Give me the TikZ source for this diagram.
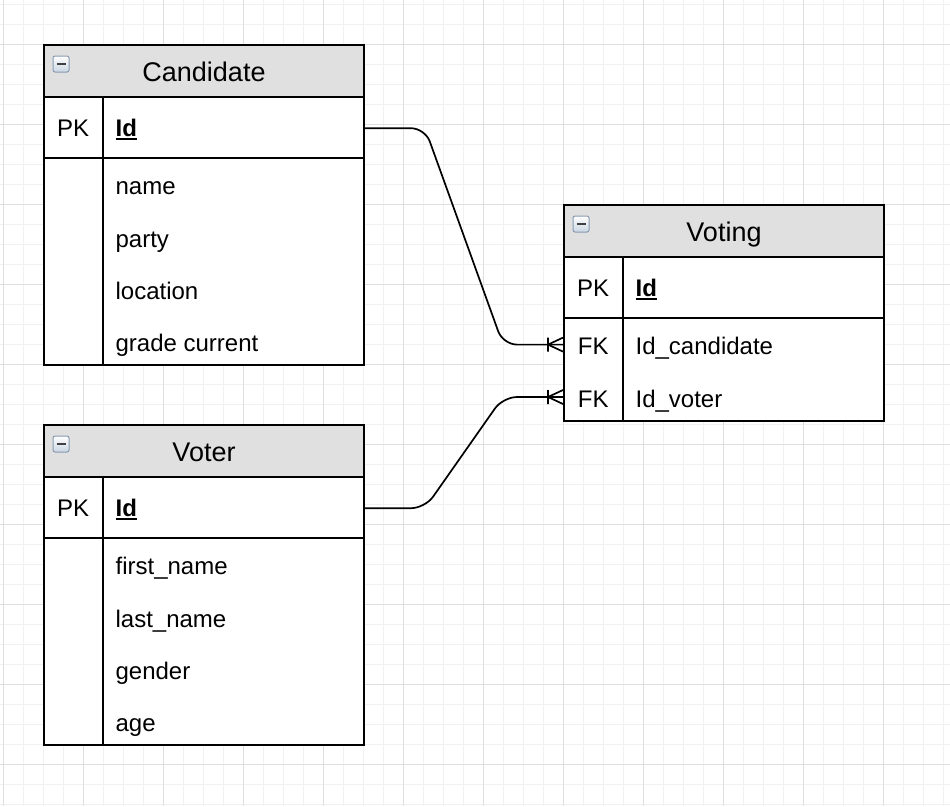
\documentclass[tikz,border=0pt]{standalone}
\usepackage{fontspec}
\setmainfont{Liberation Sans}
\usetikzlibrary{positioning}

\definecolor{headgray}{HTML}{E0E0E0}
\definecolor{gridminor}{HTML}{F1F1F1}
\definecolor{gridmajor}{HTML}{DFDFDF}
\definecolor{iconedge}{HTML}{8A9BB0}
\definecolor{iconfill}{HTML}{C9D5E3}

\newsavebox{\keybox}
\newcommand{\keyname}[1]{\sbox\keybox{\bfseries #1}\rlap{\rule[-3.5pt]{\wd\keybox}{2pt}}\usebox\keybox}

\tikzset{
  erline/.style={line width=2pt},
  connector/.style={line width=1.7pt, rounded corners=14pt},
  tablebox/.style={draw, erline, fill=white, anchor=north west, minimum width=320, inner sep=0},
  tablehead/.style={draw, erline, fill=headgray, anchor=north west, minimum width=320,
    minimum height=52, inner sep=0, text height=21pt, text depth=0pt, font=\fontsize{27}{32}\selectfont},
  keycell/.style={anchor=north west, minimum width=60, minimum height=52, inner sep=0,
    text height=20pt, text depth=0pt, font=\fontsize{24}{28}\selectfont},
  pkcell/.style={keycell, minimum height=60, text height=17pt},
  field/.style={anchor=base west, xshift=12pt, inner sep=0, font=\fontsize{24}{28}\selectfont},
  collapse/.style={draw=iconedge, line width=1pt, top color=white, bottom color=iconfill,
    rounded corners=2pt, minimum size=16, inner sep=0,
    path picture={\draw[black!75, line width=2.5pt]
      ([xshift=3.5pt]path picture bounding box.west) -- ([xshift=-3.5pt]path picture bounding box.east);}},
  crowsfoot/.pic={\draw[line width=1.7pt] (-15,-7) -- (-15,7) (0,-7) -- (-15,0) -- (0,7);},
}

\begin{document}
\begin{tikzpicture}[x=1pt, y=-1pt]
  \useasboundingbox[fill=white] (0,0) rectangle (950,806);
  %\draw[help lines,step=20] (0,0) grid (950,806);

  % background grid
  \foreach \x in {3,23,...,943} \draw[gridminor, line width=1pt] (\x,0) -- (\x,806);
  \foreach \y in {4,24,...,804} \draw[gridminor, line width=1pt] (0,\y) -- (950,\y);
  \foreach \x in {3,83,...,883} \draw[gridmajor, line width=1pt] (\x,0) -- (\x,806);
  \foreach \y in {44,124,...,764} \draw[gridmajor, line width=1pt] (0,\y) -- (950,\y);

  \foreach \n/\x/\y/\h/\t in {cand/43/44/320/Candidate, voter/43/424/320/Voter, vote/563/204/216/Voting} {
    \node[tablebox, minimum height=\h] (\n) at (\x,\y) {};
    \node[tablehead] (\n head) at (\n.north west) {\t};
    \node[collapse, xshift=18pt, yshift=-20pt] (\n icon) at (\n head.north west) {};
    \node[pkcell] (\n pk) at (\n head.south west) {PK};
    \node[field] (\n id) at (\n pk.base east) {\keyname{Id}};
    \draw[erline] (\n pk.south west) -- (\n pk.south -| \n.east);
    \draw[erline] (\n pk.north east) -- (\n pk.north east |- \n.south);
  }

  \foreach \prev/\k/\key/\t in {candpk/cname//name, cname/cparty//party, cparty/cloc//location,
    cloc/cgrade//grade current, voterpk/vfirst//first\_name, vfirst/vlast//last\_name,
    vlast/vgender//gender, vgender/vage//age, votepk/vtcand/FK/Id\_candidate, vtcand/vtvoter/FK/Id\_voter} {
    \node[keycell, below=0pt of \prev] (\k) {\key};
    \node[field] (\k txt) at (\k.base east) {\t};
  }

  \draw[connector] (candpk -| cand.east) -- ++(60,0) -- ([xshift=-60pt]vtcand.west) -- (vtcand.west);
  \draw[connector] (voterpk -| voter.east) -- ++(60,0) -- ([xshift=-60pt]vtvoter.west) -- (vtvoter.west);
  \pic at (vtcand.west) {crowsfoot};
  \pic at (vtvoter.west) {crowsfoot};

\end{tikzpicture}
\end{document}
